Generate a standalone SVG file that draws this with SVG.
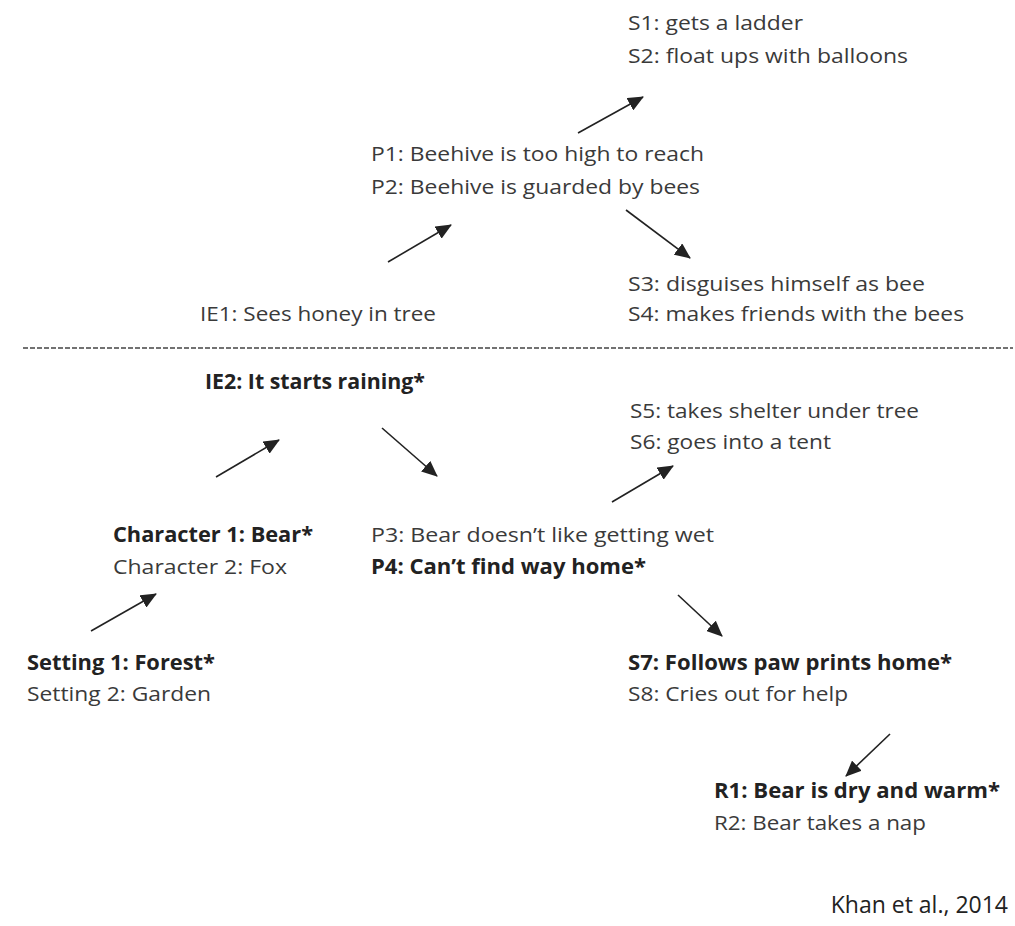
<svg xmlns="http://www.w3.org/2000/svg" width="1015" height="926" viewBox="0 0 1015 926">
<style>
text{font-family:"Open Sans","Liberation Sans",sans-serif;font-size:20.5px;fill:#3a3a3a}
.b{font-weight:bold;fill:#222}
.cite{font-size:23px;fill:#222}
.arr{stroke:#222;stroke-width:1.6;fill:none;marker-end:url(#ah)}
</style>
<defs>
<marker id="ah" markerUnits="userSpaceOnUse" markerWidth="16" markerHeight="14" refX="15" refY="7" orient="auto">
<path d="M0,0 L16,7 L0,14 z" fill="#222"/>
</marker>
</defs>
<rect width="1015" height="926" fill="#fff"/>
<g id="s1s2"><text x="628" y="30" textLength="175" lengthAdjust="spacingAndGlyphs">S1: gets a ladder</text><text x="628" y="63" textLength="280" lengthAdjust="spacingAndGlyphs">S2: float ups with balloons</text></g>
<g id="p1p2"><text x="371" y="161" textLength="333" lengthAdjust="spacingAndGlyphs">P1: Beehive is too high to reach</text><text x="371" y="194" textLength="329" lengthAdjust="spacingAndGlyphs">P2: Beehive is guarded by bees</text></g>
<g id="s3s4"><text x="628" y="291" textLength="297" lengthAdjust="spacingAndGlyphs">S3: disguises himself as bee</text><text x="628" y="321" textLength="336" lengthAdjust="spacingAndGlyphs">S4: makes friends with the bees</text></g>
<g id="ie1"><text x="200" y="321" textLength="236" lengthAdjust="spacingAndGlyphs">IE1: Sees honey in tree</text></g>
<g id="divider"><line x1="23" y1="348" x2="1013" y2="348" stroke="#444" stroke-width="1.3" stroke-dasharray="5 2"/></g>
<g id="ie2"><text class="b" x="205" y="389" textLength="220" lengthAdjust="spacingAndGlyphs">IE2: It starts raining*</text></g>
<g id="s5s6"><text x="630" y="418" textLength="289" lengthAdjust="spacingAndGlyphs">S5: takes shelter under tree</text><text x="630" y="449" textLength="201" lengthAdjust="spacingAndGlyphs">S6: goes into a tent</text></g>
<g id="characters"><text class="b" x="113" y="542" textLength="200" lengthAdjust="spacingAndGlyphs">Character 1: Bear*</text><text x="113" y="574" textLength="174" lengthAdjust="spacingAndGlyphs">Character 2: Fox</text></g>
<g id="p3p4"><text x="371" y="542" textLength="343" lengthAdjust="spacingAndGlyphs">P3: Bear doesn’t like getting wet</text><text class="b" x="371" y="574" textLength="275" lengthAdjust="spacingAndGlyphs">P4: Can’t find way home*</text></g>
<g id="settings"><text class="b" x="27" y="670" textLength="188" lengthAdjust="spacingAndGlyphs">Setting 1: Forest*</text><text x="27" y="701" textLength="184" lengthAdjust="spacingAndGlyphs">Setting 2: Garden</text></g>
<g id="s7s8"><text class="b" x="628" y="670" textLength="324" lengthAdjust="spacingAndGlyphs">S7: Follows paw prints home*</text><text x="628" y="701" textLength="220" lengthAdjust="spacingAndGlyphs">S8: Cries out for help</text></g>
<g id="r1r2"><text class="b" x="714" y="798" textLength="286" lengthAdjust="spacingAndGlyphs">R1: Bear is dry and warm*</text><text x="714" y="830" textLength="212" lengthAdjust="spacingAndGlyphs">R2: Bear takes a nap</text></g>
<g id="credit"><text class="cite" x="1008" y="913" text-anchor="end">Khan et al., 2014</text></g>
<g id="connectors">
<line class="arr" x1="388" y1="262" x2="451" y2="225"/>
<line class="arr" x1="578" y1="133" x2="643" y2="97"/>
<line class="arr" x1="626" y1="210" x2="690" y2="258"/>
<line class="arr" x1="216" y1="477" x2="279" y2="440"/>
<line class="arr" x1="382" y1="428" x2="437" y2="476"/>
<line class="arr" x1="612" y1="502" x2="673" y2="466"/>
<line class="arr" x1="91" y1="631" x2="156" y2="594"/>
<line class="arr" x1="678" y1="595" x2="722" y2="636"/>
<line class="arr" x1="890" y1="734" x2="846" y2="776"/>
</g>
</svg>
